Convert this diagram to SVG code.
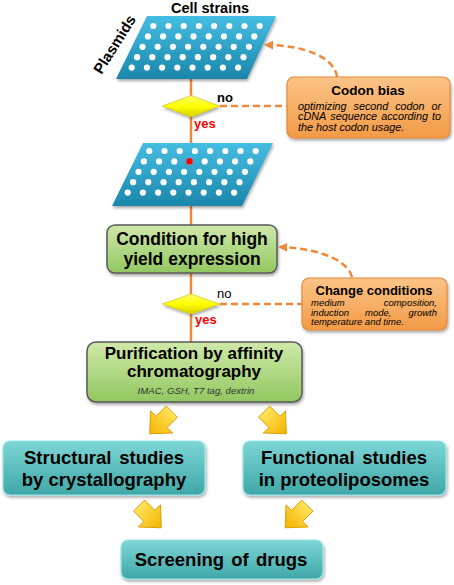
<svg xmlns="http://www.w3.org/2000/svg" xmlns:xlink="http://www.w3.org/1999/xlink" width="454" height="585" viewBox="0 0 454 585">
<defs>
<linearGradient id="gBlue" x1="0" y1="0" x2="0" y2="1"><stop offset="0" stop-color="#45bde3"/><stop offset="1" stop-color="#1b86ab"/></linearGradient>
<linearGradient id="gGreen" x1="0" y1="0" x2="0" y2="1"><stop offset="0" stop-color="#cfe9a9"/><stop offset="1" stop-color="#92c760"/></linearGradient>
<linearGradient id="gOrange" x1="0" y1="0" x2="0" y2="1"><stop offset="0" stop-color="#fcc487"/><stop offset="1" stop-color="#f29a46"/></linearGradient>
<linearGradient id="gTeal" x1="0" y1="0" x2="0" y2="1"><stop offset="0" stop-color="#7dd6d6"/><stop offset="1" stop-color="#3fa7a7"/></linearGradient>
<linearGradient id="gYellow" x1="0" y1="0" x2="0" y2="1"><stop offset="0" stop-color="#ffff70"/><stop offset="0.5" stop-color="#ffff00"/><stop offset="1" stop-color="#d9cf00"/></linearGradient>
<linearGradient id="gGold" x1="0" y1="0" x2="0" y2="1"><stop offset="0" stop-color="#ffe45a"/><stop offset="1" stop-color="#f5b200"/></linearGradient>
<filter id="sh" x="-10%" y="-10%" width="125%" height="135%"><feDropShadow dx="1" dy="2" stdDeviation="1.5" flood-color="#000" flood-opacity="0.35"/></filter>
<marker id="ah" viewBox="0 0 10 10" refX="8" refY="5" markerWidth="9" markerHeight="9" markerUnits="userSpaceOnUse" orient="auto"><path d="M0,0 L10,5 L0,10 z" fill="#f0883c"/></marker>
<g id="row"><circle cx="0" cy="0" r="3.1"/><circle cx="15.2" cy="0" r="3.1"/><circle cx="30.4" cy="0" r="3.1"/><circle cx="45.6" cy="0" r="3.1"/><circle cx="60.8" cy="0" r="3.1"/><circle cx="76" cy="0" r="3.1"/><circle cx="91.2" cy="0" r="3.1"/><circle cx="106.4" cy="0" r="3.1"/></g>
<polygon id="barrow" points="0,14 -14,-1 -7,-1 -7,-14 7,-14 7,-1 14,-1"/>
</defs>
<style>
.t{font-family:"Liberation Sans",Arial,sans-serif;fill:#000}
.b{font-weight:bold}
.i{font-style:italic}
.conn{stroke:#f0883c;stroke-width:2.5;fill:none}
.dash{stroke:#f0883c;stroke-width:2.5;fill:none;stroke-dasharray:7,4}
.dots{fill:#fff}
.green{fill:url(#gGreen);stroke:#5a5a5a;stroke-width:1.5}
.orange{fill:url(#gOrange);stroke:#e4893a;stroke-width:1.2}
.teal{fill:url(#gTeal);stroke:#98e6e6;stroke-width:1.2}
.gold{fill:url(#gGold);stroke:#d99a00;stroke-width:0.8}
.dia{fill:url(#gYellow);stroke:#c8c000;stroke-width:0.6}
</style>

<g id="connectors">
<line class="conn" x1="191" y1="79" x2="191" y2="143"/>
<line class="conn" x1="191" y1="206" x2="191" y2="225"/>
<line class="conn" x1="191" y1="273" x2="191" y2="342"/>
<line class="dash" x1="220" y1="106" x2="287" y2="106"/>
<line class="dash" x1="220" y1="304" x2="302" y2="304"/>
<path class="dash" d="M337,77 C335,58 305,45 266,45" marker-end="url(#ah)" stroke-dasharray="6,4"/>
<path class="dash" d="M352,277 C348,262 325,249 280,247" marker-end="url(#ah)" stroke-dasharray="6,4"/>
<g id="block-arrows" class="gold">
<use href="#barrow" transform="translate(160.8,422.7) rotate(45) scale(1.12)"/>
<use href="#barrow" transform="translate(275.2,422.7) rotate(-45) scale(1.12)"/>
<use href="#barrow" transform="translate(150.2,516.7) rotate(-45) scale(1.12)"/>
<use href="#barrow" transform="translate(296.3,516.7) rotate(45) scale(1.12)"/>
</g>
</g>

<g id="cell-strains-plate">
<polygon points="147,16 276,16 247,79 116,79" fill="url(#gBlue)" filter="url(#sh)"/>
<g class="dots">
<use href="#row" x="153.3" y="26"/>
<use href="#row" x="147.9" y="36.4"/>
<use href="#row" x="142.5" y="46.8"/>
<use href="#row" x="137.1" y="57.2"/>
<use href="#row" x="131.7" y="67.6"/>
</g>
<text class="t b" x="210" y="13" font-size="14.5" text-anchor="middle">Cell strains</text>
<text class="t b" font-size="15" text-anchor="middle" transform="translate(119,47) rotate(-58)">Plasmids</text>
</g>

<g id="decision-1">
<polygon class="dia" points="191,95.5 219.5,106 191,117 162.5,106" filter="url(#sh)"/>
<text class="t b" x="217" y="102" font-size="13">no</text>
<text class="t b" x="194" y="128" font-size="13" style="fill:#ff0000">yes</text>
</g>

<g id="codon-bias">
<rect class="orange" x="287" y="77" width="163" height="61" rx="7" filter="url(#sh)"/>
<text class="t b" x="368" y="95" font-size="13.5" text-anchor="middle">Codon bias</text>
<g class="t i" font-size="10.8">
<text x="298" y="109.5">optimizing</text><text x="353.5" y="109.5">second</text><text x="395.2" y="109.5">codon</text><text x="441" y="109.5" text-anchor="end">or</text>
<text x="298" y="120">cDNA</text><text x="330.3" y="120">sequence</text><text x="381.2" y="120">according</text><text x="441" y="120" text-anchor="end">to</text>
<text x="298" y="130.5">the host codon usage.</text>
</g>
</g>

<g id="selected-plate">
<polygon points="143,143 273,143 242,206 112,206" fill="url(#gBlue)" filter="url(#sh)"/>
<g class="dots">
<use href="#row" x="149.3" y="151"/>
<use href="#row" x="143.9" y="161.4"/>
<use href="#row" x="138.5" y="171.8"/>
<use href="#row" x="133.1" y="182.2"/>
<use href="#row" x="127.7" y="192.6"/>
</g>
<circle cx="189.5" cy="161.4" r="3.3" fill="#ff0000"/>
</g>

<g id="condition">
<rect class="green" x="107" y="225" width="170" height="48" rx="8" filter="url(#sh)"/>
<text class="t b" x="192" y="245" font-size="17.5" text-anchor="middle">Condition for high</text>
<text class="t b" x="192" y="265" font-size="17.5" text-anchor="middle">yield expression</text>
</g>

<g id="decision-2">
<polygon class="dia" points="191,294 219.5,304 191,314 162.5,304" filter="url(#sh)"/>
<text class="t" x="217" y="297.5" font-size="13">no</text>
<text class="t b" x="195" y="324" font-size="13" style="fill:#ff0000">yes</text>
</g>

<g id="change-conditions">
<rect class="orange" x="302" y="278" width="145" height="52" rx="7" filter="url(#sh)"/>
<text class="t b" x="374" y="294.5" font-size="13" text-anchor="middle">Change conditions</text>
<g class="t i" font-size="9.5">
<text x="311" y="306">medium</text><text x="437" y="306" text-anchor="end">composition,</text>
<text x="311" y="315.5">induction</text><text x="365" y="315.5">mode,</text><text x="437" y="315.5" text-anchor="end">growth</text>
<text x="311" y="325">temperature and time.</text>
</g>
</g>

<g id="purification">
<rect class="green" x="87" y="342" width="215" height="60" rx="9" filter="url(#sh)"/>
<text class="t b" x="194" y="359" font-size="17" text-anchor="middle">Purification by affinity</text>
<text class="t b" x="194" y="377" font-size="17" text-anchor="middle">chromatography</text>
<text class="t i" x="196" y="393.5" font-size="9.6" text-anchor="middle" style="fill:#333">IMAC, GSH, T7 tag, dextrin</text>
</g>

<g id="structural">
<rect class="teal" x="3" y="441" width="202" height="54" rx="7" filter="url(#sh)"/>
<text class="t b" x="24" y="463.5" font-size="18.5">Structural</text>
<text class="t b" x="184" y="463.5" font-size="18.5" text-anchor="end">studies</text>
<text class="t b" x="104" y="486" font-size="18.5" text-anchor="middle">by crystallography</text>
</g>

<g id="functional">
<rect class="teal" x="243" y="441" width="203" height="54" rx="7" filter="url(#sh)"/>
<text class="t b" x="261" y="463.5" font-size="18.5">Functional</text>
<text class="t b" x="427" y="463.5" font-size="18.5" text-anchor="end">studies</text>
<text class="t b" x="344" y="486" font-size="18.5" text-anchor="middle">in proteoliposomes</text>
</g>

<g id="screening">
<rect class="teal" x="121" y="540" width="202" height="39" rx="7" filter="url(#sh)"/>
<text class="t b" x="221" y="566" font-size="18.5" text-anchor="middle" word-spacing="2">Screening of drugs</text>
</g>
</svg>
